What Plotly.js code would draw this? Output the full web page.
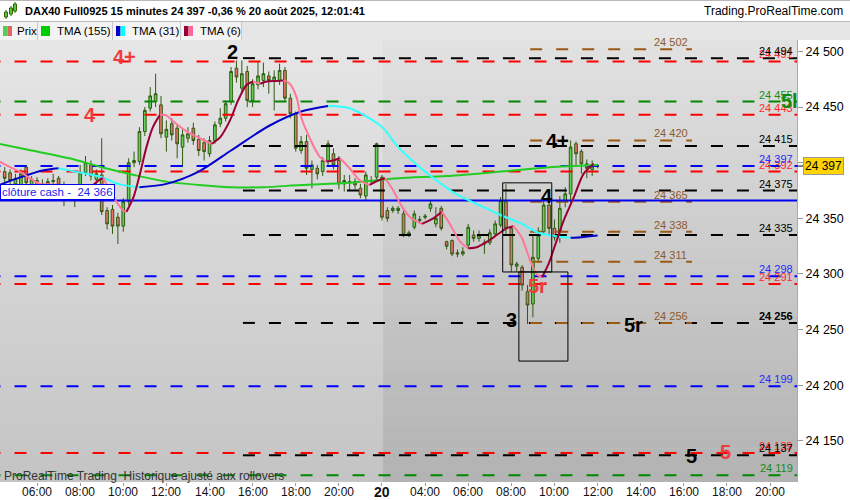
<!DOCTYPE html>
<html><head><meta charset="utf-8">
<script src="https://cdn.plot.ly/plotly-3.0.1.min.js"></script>
<style>html,body{margin:0;padding:0;background:#fff;} #chart{width:850px;height:500px;}</style>
</head><body><div id="chart"></div>
<script>
// ---------- DATA ----------
// 15-minute bars, index 0 = 19 Aug 04:30 ... index 110 = 20 Aug 12:00
const barOpen  = [24392,24391,24381,24378,24396,24380,24384,24379,24380,24383,24386,24380,24376,24373,24375,24391,24398,24385,24389,24357,24358,24351,24343,24365,24400,24401,24428,24449,24455,24452,24423,24435,24431,24414,24422,24431,24421,24418,24408,24420,24435,24440,24455,24485,24467,24482,24456,24470,24474,24478,24474,24474,24483,24458,24444,24411,24419,24394,24395,24392,24401,24408,24402,24381,24382,24383,24377,24370,24384,24387,24387,24357,24357,24357,24354,24335,24342,24348,24351,24359,24345,24359,24329,24330,24319,24318,24326,24335,24332,24328,24328,24336,24344,24365,24341,24307,24306,24284,24273,24314,24338,24362,24341,24338,24366,24372,24417,24410,24399,24394,24397];
const barHigh  = [24396,24394,24390,24394,24398,24388,24387,24385,24386,24390,24388,24383,24380,24377,24398,24406,24402,24394,24422,24360,24362,24355,24368,24404,24410,24432,24450,24468,24480,24460,24438,24440,24434,24430,24432,24436,24425,24422,24424,24437,24449,24456,24486,24492,24492,24487,24475,24491,24490,24482,24483,24489,24486,24462,24446,24424,24425,24402,24398,24405,24420,24413,24406,24389,24389,24386,24381,24392,24388,24418,24389,24360,24361,24361,24357,24339,24357,24352,24354,24366,24360,24361,24330,24331,24322,24324,24345,24339,24339,24331,24340,24348,24369,24381,24343,24311,24308,24290,24335,24342,24368,24372,24349,24370,24378,24420,24419,24412,24403,24402,24399];
const barLow   = [24382,24380,24378,24374,24378,24376,24375,24374,24376,24378,24372,24361,24366,24360,24369,24388,24384,24380,24353,24340,24336,24327,24338,24362,24396,24398,24424,24446,24450,24422,24410,24420,24404,24396,24418,24416,24406,24402,24405,24417,24432,24437,24452,24472,24462,24450,24450,24466,24468,24462,24447,24470,24455,24440,24410,24408,24389,24377,24385,24388,24398,24394,24376,24374,24375,24376,24368,24366,24380,24384,24348,24347,24355,24354,24333,24333,24340,24345,24349,24356,24342,24339,24322,24316,24315,24316,24324,24329,24329,24318,24326,24334,24342,24336,24302,24302,24285,24255,24261,24310,24336,24335,24330,24328,24360,24364,24398,24390,24386,24388,24395];
const barClose = [24386,24384,24386,24390,24382,24385,24379,24381,24383,24384,24380,24376,24373,24371,24391,24400,24388,24390,24356,24345,24343,24343,24365,24400,24402,24428,24447,24460,24462,24426,24430,24425,24417,24425,24426,24420,24411,24410,24420,24434,24440,24453,24482,24477,24480,24456,24471,24478,24480,24474,24477,24483,24458,24444,24413,24419,24395,24398,24390,24402,24417,24398,24381,24384,24383,24380,24371,24389,24383,24417,24351,24350,24359,24359,24335,24337,24354,24349,24352,24363,24350,24341,24325,24318,24318,24320,24342,24332,24335,24327,24337,24345,24366,24341,24308,24309,24290,24272,24315,24335,24362,24341,24333,24359,24372,24414,24408,24399,24395,24397,24397];

// moving averages read at bar positions
const tma155X = [-1,5,12,18,24,30,36,42,48,55,64,73,82,92,101,110];
const tma155Y = [24417,24411,24404,24396,24389,24383,24380,24378,24378,24380,24382,24386,24388,24392,24396,24398];
const tma31X = [-1,3,7,10,13,18,21,25,30,36,42,49,55,60,64,70,73,77,81,84,88,92,96,99,103,105,107,110];
const tma31Y = [24380,24387,24393,24395,24392,24387,24381,24378,24381,24392,24411,24433,24446,24451,24449,24432,24414,24396,24381,24371,24362,24353,24345,24337,24333.4,24332.5,24333,24334.5];
const tma6X = [-1,1,2.8,4.7,6.5,8.4,10.3,13.4,15.8,17.7,18.3,20.2,22,22.6,23.9,25.1,26.3,27.5,28.8,30,31.3,33.8,36.2,38.4,40,41.8,43.3,44.9,46.1,47.4,48.6,50.5,51.7,52.9,54.2,54.8,56.6,58.5,59.7,60.9,62.2,64,65.9,67.7,69.3,70.6,72.1,73.4,75.2,77.4,79.5,81.1,82.6,84.5,86,87.6,89.5,91.3,93.1,94.4,95.9,97.5,98.7,99.7,100.9,102.2,103.7,105.6,107.4,109.3];
const tma6Y = [24401,24396,24392,24386,24381,24380.5,24380,24377,24378,24385,24386,24369,24357,24356,24369,24390,24414,24432,24443,24442.5,24437,24428,24422,24417,24423,24438,24456,24470,24473,24471,24473,24473.5,24474,24471,24458,24444,24422,24405,24401,24402,24404,24395,24384,24380,24384,24386,24375,24363,24351,24345,24350,24356,24345,24329,24323,24324,24329,24335,24341,24343,24333,24312,24300,24297,24309,24327,24348,24369,24390,24399];

// horizontal levels
const redLevels   = [24491,24443,24392,24291,24139];
const blueLevels  = [24397,24298,24199];
const greenLevels = [24455,24119];
const blackLevels = [24494,24415,24375,24335,24256,24137];
const brownLevels = [24502,24420,24365,24338,24311,24256];
const cashClose = 24366;
const lastPrice = 24397;

// wave labels
const waveText = ['4+','2','4','4+','4','5r','3','5r','5','5','5l'];
const waveX    = [22.3,42.2,15.8,102.5,100.6,98.9,94.1,116.6,127.5,133.8,145.7];
const waveY    = [24495,24499.5,24443,24419.5,24370,24289,24258.5,24254,24136,24140,24455.5];
const waveTone = ['red','black','red','black','black','red','black','black','black','red','green'];

// boxes drawn on chart
const boxX0 = [92.4,95.4], boxX1 = [101.5,104.5], boxY0 = [24381.9,24301.8], boxY1 = [24301.8,24221.7];

// axis ticks
const xTickVals = [6,14,22,30,38,46,54,62,70,78,86,94,102,110,118,126,134,142];
const xTickText = ['06:00','08:00','10:00','12:00','14:00','16:00','18:00','20:00','20','04:00','06:00','08:00','10:00','12:00','14:00','16:00','18:00','20:00'];
const yTickVals = [24150,24200,24250,24300,24350,24400,24450,24500];
const yTickText = ['24 150','24 200','24 250','24 300','24 350','24 400','24 450','24 500'];

// ---------- STYLE / BUILD ----------
const FONT = 'Arial, "Liberation Sans", sans-serif';
const COL = {red:'#ff0000', blue:'#0000ff', green:'#008800', black:'#000000', brown:'#9a5a14'};
const LBL = {red:'#ff2a2a', blue:'#2a2aff', green:'#1a8a1a', black:'#000000', brown:'#8b5a2b'};
const WAVE = {red:'#f03c3c', black:'#000000', green:'#0f8a0f'};
const PX = p => p/797;
const PY = py => (482-py)/442;
const fmt = v => String(Math.round(v)).replace(/(\d\d)(\d{3})$/, '$1 $2');

const traces = [];
const shapes = [];
const ann = [];

// background gradient bands
const N = 40;
function mix(a,b,t){return Math.round(a+(b-a)*t);}
for (let k=0;k<N;k++){
  const t=(k+0.5)/N; // 0 top -> 1 bottom
  const g1=mix(230,196,t), g2=mix(226,178,t);
  shapes.push({type:'rect',layer:'below',xref:'x',yref:'paper',x0:-5,x1:70.2,y0:1-(k+1)/N,y1:1-k/N+0.001,fillcolor:`rgb(${g1},${g1},${g1})`,line:{width:0}});
  shapes.push({type:'rect',layer:'below',xref:'x',yref:'paper',x0:70.2,x1:160,y0:1-(k+1)/N,y1:1-k/N+0.001,fillcolor:`rgb(${g2},${g2},${g2})`,line:{width:0}});
}

function levelTrace(v,color,x0,x1){
  traces.push({type:'scatter',mode:'lines',x:[x0,x1],y:[v,v],line:{color:color,width:2,dash:'12px,14px'},hoverinfo:'skip',showlegend:false});
}
redLevels.forEach(v=>levelTrace(v,COL.red,-3,150));
blueLevels.forEach(v=>levelTrace(v,COL.blue,-3,150));
greenLevels.forEach(v=>levelTrace(v,COL.green,-3,150));
blackLevels.forEach(v=>levelTrace(v,COL.black,44.2,150));
brownLevels.forEach(v=>levelTrace(v,COL.brown,97.5,127.5));
traces.push({type:'scatter',mode:'lines',x:[-3,150],y:[cashClose,cashClose],line:{color:'#0000ee',width:2},hoverinfo:'skip',showlegend:false});

// right labels for levels
function rightLabel(v,color,bold){
  ann.push({xref:'paper',yref:'y',x:PX(795),y:v,xanchor:'right',yanchor:'middle',yshift:7,text:bold?'<b>'+fmt(v)+'</b>':fmt(v),showarrow:false,font:{family:FONT,size:11,color:color}});
}
redLevels.forEach(v=>rightLabel(v,LBL.red,false));
blueLevels.forEach(v=>rightLabel(v,LBL.blue,false));
greenLevels.forEach(v=>rightLabel(v,LBL.green,false));
blackLevels.forEach(v=>rightLabel(v,LBL.black,v===24256));
brownLevels.forEach(v=>ann.push({xref:'x',yref:'y',x:120.1,y:v,xanchor:'left',yanchor:'middle',yshift:7,text:fmt(v),showarrow:false,font:{family:FONT,size:11,color:LBL.brown}}));

// candles
const idx = barOpen.map((_,i)=>i);
traces.push({type:'candlestick',x:idx,open:barOpen,high:barHigh,low:barLow,close:barClose,
  increasing:{line:{color:'#2f5a10',width:1},fillcolor:'#62d058'},
  decreasing:{line:{color:'#2f5a10',width:1},fillcolor:'#ea706a'},
  whiskerwidth:0,hoverinfo:'skip',showlegend:false});

// colored MAs
function coloredLine(xs,ys,up,down,w){
  let cur={x:[xs[0]],y:[ys[0]],dir:null};
  const segs=[];
  for(let i=1;i<xs.length;i++){
    const d = ys[i]>=ys[i-1]?'up':'down';
    if(cur.dir===null) cur.dir=d;
    if(d!==cur.dir){segs.push(cur);cur={x:[xs[i-1]],y:[ys[i-1]],dir:d};}
    cur.x.push(xs[i]);cur.y.push(ys[i]);
  }
  segs.push(cur);
  segs.forEach(s=>traces.push({type:'scatter',mode:'lines',x:s.x,y:s.y,line:{color:s.dir==='up'?up:down,width:w,shape:'spline',smoothing:0.8},hoverinfo:'skip',showlegend:false}));
}
traces.push({type:'scatter',mode:'lines',x:tma155X,y:tma155Y,line:{color:'#22cc22',width:2,shape:'spline',smoothing:0.8},hoverinfo:'skip',showlegend:false});
coloredLine(tma31X,tma31Y,'#0000cc','#33ffff',2);
coloredLine(tma6X,tma6Y,'#990033','#ff7799',2);

// boxes
for(let k=0;k<boxX0.length;k++){
  shapes.push({type:'rect',xref:'x',yref:'y',x0:boxX0[k],x1:boxX1[k],y0:boxY0[k],y1:boxY1[k],line:{color:'#000',width:1},fillcolor:'rgba(0,0,0,0)'});
}

// wave labels
waveText.forEach((t,k)=>ann.push({xref:'x',yref:'y',x:waveX[k],y:waveY[k],text:'<b>'+t+'</b>',showarrow:false,xanchor:'center',yanchor:'middle',font:{family:FONT,size:20,color:WAVE[waveTone[k]]}}));

// cash close label
ann.push({xref:'paper',yref:'y',x:PX(0),y:cashClose,xanchor:'left',yanchor:'bottom',yshift:1,text:'clôture cash -  '+fmt(cashClose),showarrow:false,bgcolor:'#ffffff',bordercolor:'#0000ee',borderwidth:1,borderpad:1,font:{family:FONT,size:11.5,color:'#2222ee'}});

// bottom note
ann.push({xref:'paper',yref:'paper',x:PX(2),y:PY(476),xanchor:'left',yanchor:'middle',text:'ProRealTime Trading  Historique ajusté aux rollovers',showarrow:false,font:{family:FONT,size:12,color:'#333333'}});

// x tick labels (drawn as text under the tick marks)
xTickVals.forEach((v,k)=>{
  const isDay = xTickText[k].length<3;
  ann.push({xref:'x',yref:'paper',x:v,y:PY(492),xanchor:'center',yanchor:'middle',showarrow:false,
    text:isDay?'<b>'+xTickText[k]+'</b>':xTickText[k],font:{family:FONT,size:isDay?14:12,color:'#111'}});
});

// last price box
shapes.push({type:'line',xref:'paper',yref:'y',x0:PX(797),x1:PX(804),y0:lastPrice,y1:lastPrice,line:{color:'#000',width:1}});
ann.push({xref:'paper',yref:'y',x:PX(803),y:lastPrice,xanchor:'left',yanchor:'middle',text:fmt(lastPrice),showarrow:false,bgcolor:'#ffd400',bordercolor:'#9a9a9a',borderwidth:1,borderpad:1,font:{family:FONT,size:12,color:'#000'}});

// header
shapes.push({type:'rect',xref:'paper',yref:'paper',x0:0,x1:PX(850),y0:PY(22),y1:PY(0),fillcolor:'#ffffff',line:{width:0}});
shapes.push({type:'rect',xref:'paper',yref:'paper',x0:0,x1:PX(850),y0:PY(40),y1:PY(22),fillcolor:'#e6e6e6',line:{width:0}});
shapes.push({type:'rect',xref:'paper',yref:'paper',x0:0,x1:PX(241),y0:PY(40),y1:PY(22),fillcolor:'#f3f3f3',line:{width:0}});
shapes.push({type:'line',xref:'paper',yref:'paper',x0:0,x1:PX(850),y0:PY(0.5),y1:PY(0.5),line:{color:'#b8b8b8',width:1}});
shapes.push({type:'line',xref:'paper',yref:'paper',x0:0,x1:PX(850),y0:PY(21.5),y1:PY(21.5),line:{color:'#b8b8b8',width:1}});
[37.5,112.5,180.5,241.5].forEach(x=>shapes.push({type:'line',xref:'paper',yref:'paper',x0:PX(x),x1:PX(x),y0:PY(40),y1:PY(22),line:{color:'#c8c8c8',width:1}}));
// legend icons
function sq(x0,x1,c){shapes.push({type:'rect',xref:'paper',yref:'paper',x0:PX(x0),x1:PX(x1),y0:PY(36),y1:PY(26),fillcolor:c,line:{width:0}});}
sq(3,7.5,'#55cc55');sq(7.5,12,'#e06666');
sq(41,50,'#00cc00');
sq(116,120.5,'#0000cc');sq(120.5,125,'#00ffff');
sq(184,188.5,'#990033');sq(188.5,193,'#ff6699');
// header candle icon
[[6,12,17,10,19],[11,8,14,6,16],[15,4,11,2,13]].forEach(c=>{
  shapes.push({type:'line',xref:'paper',yref:'paper',x0:PX(c[0]),x1:PX(c[0]),y0:PY(c[4]),y1:PY(c[3]),line:{color:'#336600',width:1}});
  shapes.push({type:'rect',xref:'paper',yref:'paper',x0:PX(c[0]-1.5),x1:PX(c[0]+1.5),y0:PY(c[2]),y1:PY(c[1]),fillcolor:'#55cc44',line:{color:'#336600',width:1}});
});
ann.push({xref:'paper',yref:'paper',x:PX(23),y:PY(11),xanchor:'left',yanchor:'middle',text:'<b>DAX40 Full0925 15 minutes 24 397 -0,36 % 20 août 2025, 12:01:41</b>',showarrow:false,font:{family:FONT,size:11,color:'#000'}});
ann.push({xref:'paper',yref:'paper',x:PX(845),y:PY(11),xanchor:'right',yanchor:'middle',text:'Trading.ProRealTime.com',showarrow:false,font:{family:FONT,size:12,color:'#000'}});
[['Prix',15],['TMA (155)',55],['TMA (31)',130],['TMA (6)',198]].forEach(l=>ann.push({xref:'paper',yref:'paper',x:PX(l[1]),y:PY(31),xanchor:'left',yanchor:'middle',text:l[0],showarrow:false,font:{family:FONT,size:11.5,color:'#000'}}));

const layout = {
  width:850,height:500,
  margin:{l:0,r:53,t:40,b:18,pad:0},
  paper_bgcolor:'#ffffff',plot_bgcolor:'#d8d8d8',
  showlegend:false,hovermode:false,
  font:{family:FONT,size:12,color:'#000'},
  xaxis:{range:[-0.87,147],showgrid:false,zeroline:false,showline:false,ticks:'outside',ticklen:3,tickcolor:'#999',
    tickmode:'array',tickvals:xTickVals,showticklabels:false,rangeslider:{visible:false},fixedrange:true},
  yaxis:{range:[24113,24510.3],side:'right',showgrid:false,zeroline:false,showline:true,linecolor:'#aaaaaa',linewidth:1,ticks:'outside',ticklen:5,tickcolor:'#999',
    tickmode:'array',tickvals:yTickVals,ticktext:yTickText,tickfont:{family:FONT,size:12.5,color:'#000'},fixedrange:true},
  shapes:shapes,annotations:ann
};
Plotly.newPlot('chart',traces,layout,{displayModeBar:false,staticPlot:true});
</script></body></html>
